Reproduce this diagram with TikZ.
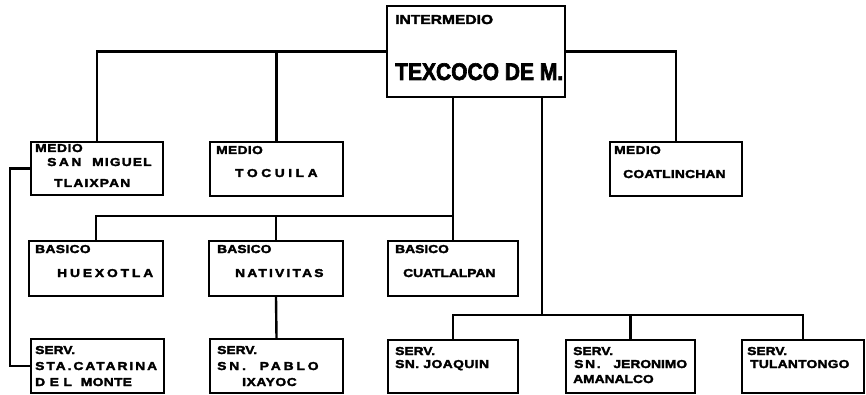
\documentclass[tikz,border=0pt]{standalone}
\usepackage{fontspec}
\setmainfont{Liberation Sans}
\newfontfamily\labfont{Liberation Sans}[FakeStretch=1.2,FakeBold=2.6]
\newcommand{\trk}[2]{{\addfontfeature{LetterSpace=#1}#2}}
\begin{document}
\begin{tikzpicture}[x=1pt,y=-1pt,
  boxst/.style={draw, line width=2.4pt, inner sep=0pt},
  conn/.style={line width=2.4pt},
  lbl/.style={anchor=base west, inner sep=0pt, font=\labfont\bfseries\fontsize{11.5}{12}\selectfont}]
\useasboundingbox (0,0) rectangle (866,395);
\fill[white] (0,0) rectangle (866,395);
% boxes
\node[boxst, minimum width=178pt, minimum height=91pt] (T) at (476,51.5) {};
\node[boxst, minimum width=132pt, minimum height=53pt] (M1) at (97,168.5) {};
\node[boxst, minimum width=133pt, minimum height=54pt] (M2) at (276.5,169) {};
\node[boxst, minimum width=132pt, minimum height=54pt] (M3) at (676,169) {};
\node[boxst, minimum width=134pt, minimum height=55pt] (B1) at (96,268.5) {};
\node[boxst, minimum width=134pt, minimum height=55pt] (B2) at (276,268.5) {};
\node[boxst, minimum width=130pt, minimum height=55pt] (B3) at (453,268.5) {};
\node[boxst, minimum width=133pt, minimum height=54pt] (S1) at (97.5,366) {};
\node[boxst, minimum width=133pt, minimum height=54pt] (S2) at (276.5,366) {};
\node[boxst, minimum width=130pt, minimum height=53pt] (S3) at (453,366.5) {};
\node[boxst, minimum width=129pt, minimum height=53pt] (S4) at (630.5,366.5) {};
\node[boxst, minimum width=122pt, minimum height=53pt] (S5) at (803,366.5) {};
% junctions
\coordinate (J1) at (453,216);
\coordinate (J2) at (542,315);
\coordinate (LX) at (10,0);
% connectors
\draw[conn] (T.west) -| (M1.north);
\draw[conn] (T.east) -| (M3.north);
\draw[conn] (M2.north) -- (M2.north |- T.west);
\draw[conn] (T.south -| J1) -- (B3.north);
\draw[conn] (B1.north) |- (J1);
\draw[conn] (B2.north) -- (B2.north |- J1);
\draw[conn] (B2.south) -- (S2.north);
\draw[conn] (T.south -| J2) -- (J2);
\draw[conn] (S3.north) |- (J2) -| (S5.north);
\draw[conn] (S4.north) -- (S4.north |- J2);
\draw[conn] (M1.west) -| (LX |- S1.west) -- (S1.west);
% texts
\node[lbl] (t1) at (395,24) {\fontsize{13}{14}\selectfont INTERMEDIO};
\node[lbl] (t2) at (395,80) {\fontsize{24}{26}\selectfont\addfontfeature{FakeStretch=0.875}TEXCOCO DE M.};
\node[lbl] (m1a) at (35,152) {\trk{5}{MEDIO}};
\node[lbl] (m1b) at (47,166) {\trk{22}{SAN}\ \hspace{7pt}\trk{10}{MIGUEL}};
\node[lbl] (m1c) at (54,187) {\trk{10}{TLAIXPAN}};
\node[lbl] (m2a) at (216,154) {\trk{3}{MEDIO}};
\node[lbl] (m2b) at (235,177) {\trk{31}{TOCUILA}};
\node[lbl] (m3a) at (614,154) {\trk{3}{MEDIO}};
\node[lbl] (m3b) at (623,178) {\trk{2}{COATLINCHAN}};
\node[lbl] (b1a) at (35,253) {\trk{3}{BASICO}};
\node[lbl] (b1b) at (57,277) {\trk{25}{HUEXOTLA}};
\node[lbl] (b2a) at (217,253) {\trk{1}{BASICO}};
\node[lbl] (b2b) at (235,277) {\trk{19}{NATIVITAS}};
\node[lbl] (b3a) at (395,253) {BASICO};
\node[lbl] (b3b) at (403,277) {CUATLALPAN};
\node[lbl] (s1a) at (35,354) {SERV.};
\node[lbl] (s1b) at (35,370) {\trk{17}{STA.CATARINA}};
\node[lbl] (s1c) at (35,386) {\trk{40}{DEL}\ \hspace{5pt}\trk{3}{MONTE}};
\node[lbl] (s2a) at (217,354) {SERV.};
\node[lbl] (s2b) at (217,370) {\trk{25}{SN.}\ \hspace{10pt}\trk{25}{PABLO}};
\node[lbl] (s2c) at (242,386) {\trk{5}{IXAYOC}};
\node[lbl] (s3a) at (395,355) {SERV.};
\node[lbl] (s3b) at (395,368) {\trk{4}{SN. JOAQUIN}};
\node[lbl] (s4a) at (573,355) {SERV.};
\node[lbl] (s4b) at (574,368) {\trk{15}{SN.}\ \hspace{9pt}JERONIMO};
\node[lbl] (s4c) at (573,383) {AMANALCO};
\node[lbl] (s5a) at (747,355) {SERV.};
\node[lbl] (s5b) at (750,368) {\trk{2}{TULANTONGO}};
\end{tikzpicture}
\end{document}
